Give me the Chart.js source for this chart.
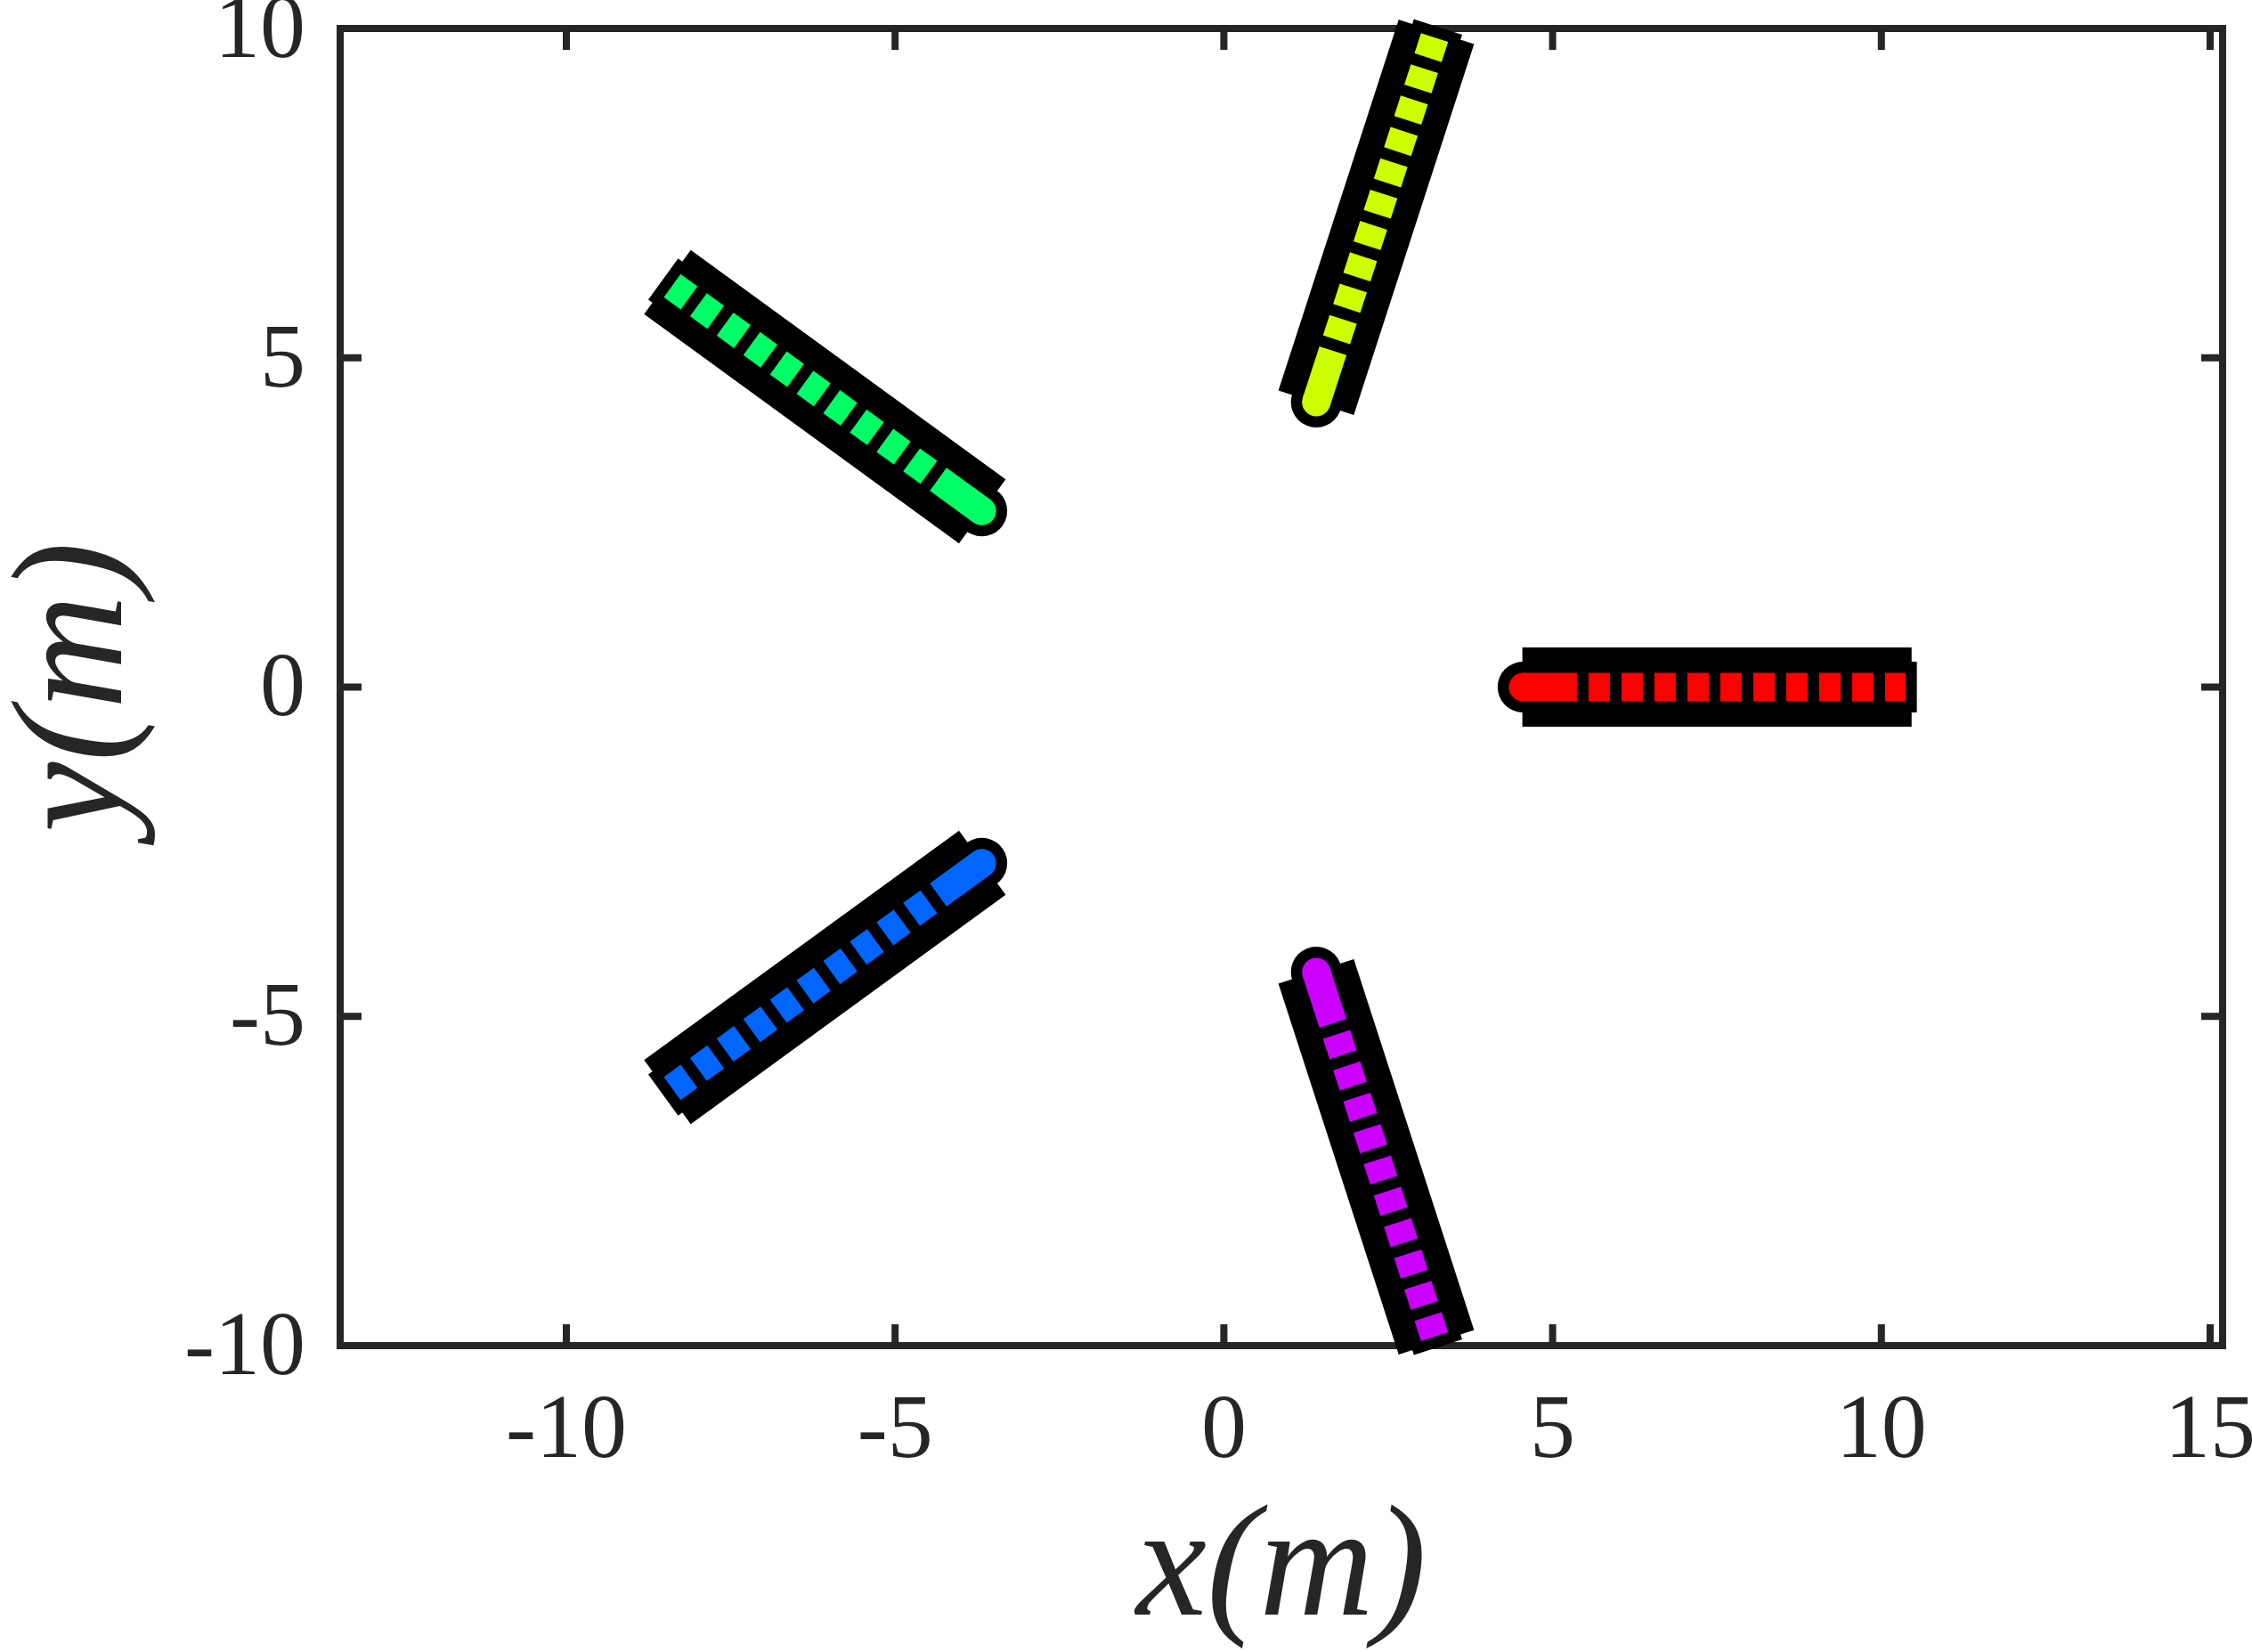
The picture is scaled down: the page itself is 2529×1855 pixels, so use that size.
<!DOCTYPE html>
<html>
<head>
<meta charset="utf-8">
<script src="https://cdn.jsdelivr.net/npm/chart.js@4.4.1/dist/chart.umd.min.js"></script>
<style>
  html, body { margin: 0; padding: 0; background: #fff; }
  #wrap { width: 2529px; height: 1855px; }
</style>
</head>
<body>
<div id="wrap"><canvas id="blades" width="2529" height="1855"></canvas></div>
<script>
// blade directions (deg) and radii along each blade (m)
const bladeAngles = [0, 72, 144, 216, 288];
const hubRadius = 4.55;        // inner end, where the round marker sits
const bodyEndRadius = 10.46;   // end of the wide black body
const rimEndRadius = 10.54;    // end of the narrower black rim
const solidEndRadius = 5.37;   // end of the solid coloured piece
const dashEndRadius = 10.37;   // end of the dashed coloured piece

const xTicks = [-10, -5, 0, 5, 10, 15];
const yTicks = [-10, -5, 0, 5, 10];
const xMin = -13.44, xMax = 15.19;
const yMin = -10, yMax = 10;

const bladeColors = ['#ff0000', '#ccff00', '#00ff66', '#0066ff', '#cc00ff'];
const axisColor = '#262626';

function polar(r, deg) {
    const a = deg * Math.PI / 180;
    return { x: r * Math.cos(a), y: r * Math.sin(a) };
}

function segment(deg, r1, r2) {
    return [polar(r1, deg), polar(r2, deg)];
}

const datasets = [];
bladeAngles.forEach((deg, i) => {
    const col = bladeColors[i];
    const base = { showLine: true, clip: false, tension: 0, borderCapStyle: 'butt', pointBorderWidth: 0, pointHoverRadius: 0 };
    // wide black body
    datasets.push(Object.assign({}, base, {
        data: segment(deg, hubRadius - 0.01, bodyEndRadius),
        borderColor: '#000', borderWidth: 89, pointRadius: 0, order: 4
    }));
    // black rim with round end at the hub
    datasets.push(Object.assign({}, base, {
        data: segment(deg, hubRadius, rimEndRadius),
        borderColor: '#000', borderWidth: 57,
        pointRadius: [28.5, 0], pointBackgroundColor: '#000', order: 3
    }));
    // solid coloured piece
    datasets.push(Object.assign({}, base, {
        data: segment(deg, hubRadius, solidEndRadius),
        borderColor: col, borderWidth: 32,
        pointRadius: [16, 0], pointBackgroundColor: col, order: 2
    }));
    // dashed coloured piece
    datasets.push(Object.assign({}, base, {
        data: segment(deg, solidEndRadius, dashEndRadius),
        borderColor: col, borderWidth: 32,
        borderDash: [24, 13], borderDashOffset: 24,
        pointRadius: 0, order: 1
    }));
});

// box and inward ticks on all four sides, drawn under the blades
const boxPlugin = {
    id: 'box',
    beforeDatasetsDraw(chart) {
        const { ctx, chartArea: a, scales } = chart;
        const tl = 24;
        ctx.save();
        ctx.strokeStyle = axisColor;
        ctx.lineWidth = 8;
        ctx.lineCap = 'butt';
        ctx.beginPath();
        xTicks.forEach(v => {
            const px = scales.x.getPixelForValue(v);
            ctx.moveTo(px, a.bottom); ctx.lineTo(px, a.bottom - tl);
            ctx.moveTo(px, a.top); ctx.lineTo(px, a.top + tl);
        });
        yTicks.forEach(v => {
            const py = scales.y.getPixelForValue(v);
            ctx.moveTo(a.left, py); ctx.lineTo(a.left + tl, py);
            ctx.moveTo(a.right, py); ctx.lineTo(a.right - tl, py);
        });
        ctx.stroke();
        ctx.lineJoin = 'miter';
        ctx.strokeRect(a.left, a.top, a.right - a.left, a.bottom - a.top);
        ctx.restore();
    }
};

// keep tick labels from pushing the plot area inward
function noOverhang(s) {
    s.paddingTop = 0; s.paddingBottom = 0; s.paddingLeft = 0; s.paddingRight = 0;
}

const tickFont = { family: "'Liberation Serif', 'Times New Roman', serif", size: 102, lineHeight: 1 };
const titleFont = { family: "'Liberation Serif', 'Times New Roman', serif", size: 178, style: 'italic', lineHeight: 1 };

new Chart(document.getElementById('blades').getContext('2d'), {
    type: 'scatter',
    data: { datasets: datasets },
    options: {
        responsive: false,
        animation: false,
        devicePixelRatio: 1,
        events: [],
        layout: { padding: { top: 32, right: 33, left: 0, bottom: 0 } },
        plugins: { legend: { display: false }, tooltip: { enabled: false } },
        scales: {
            x: {
                type: 'linear', position: 'bottom', min: xMin, max: xMax,
                afterBuildTicks: s => { s.ticks = xTicks.map(v => ({ value: v })); },
                afterFit: s => { s.height = 344; noOverhang(s); },
                grid: { display: false, drawTicks: false },
                border: { display: false },
                ticks: { font: tickFont, color: axisColor, padding: 47, maxRotation: 0, autoSkip: false, callback: v => String(v) },
                title: { display: true, text: 'x(m)', font: titleFont, color: axisColor, padding: { top: 0, bottom: 0 } }
            },
            y: {
                type: 'linear', position: 'left', min: yMin, max: yMax,
                afterBuildTicks: s => { s.ticks = yTicks.map(v => ({ value: v })); },
                afterFit: s => { s.width = 382; noOverhang(s); },
                grid: { display: false, drawTicks: false },
                border: { display: false },
                ticks: { font: tickFont, color: axisColor, padding: 39, labelOffset: 5, autoSkip: false, callback: v => String(v) },
                title: { display: true, text: 'y(m)', font: titleFont, color: axisColor, padding: { top: 0, bottom: 0 } }
            }
        }
    },
    plugins: [boxPlugin]
});
</script>
</body>
</html>
